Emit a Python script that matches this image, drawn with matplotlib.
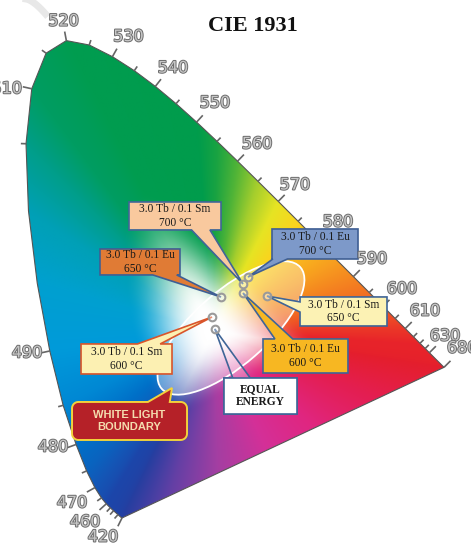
import numpy as np
import matplotlib
matplotlib.use('Agg')
import matplotlib.pyplot as plt
from matplotlib.patches import Polygon, Ellipse
import matplotlib.patheffects as pe

# CIE 1931 spectral locus, 5 nm steps
wavelengths = [420, 425, 430, 435, 440, 445, 450, 455, 460, 465, 470, 475, 480, 485, 490,
               495, 500, 505, 510, 515, 520, 525, 530, 535, 540, 545, 550, 555, 560, 565,
               570, 575, 580, 585, 590, 595, 600, 605, 610, 615, 620, 625, 630, 635, 640,
               645, 650, 655, 660, 665, 670, 675, 680]
cie_x = [0.1714, 0.1703, 0.1689, 0.1669, 0.1644, 0.1611, 0.1566, 0.1510, 0.1440, 0.1355,
         0.1241, 0.1096, 0.0913, 0.0687, 0.0454, 0.0235, 0.0082, 0.0039, 0.0139, 0.0389,
         0.0743, 0.1142, 0.1547, 0.1929, 0.2296, 0.2658, 0.3016, 0.3373, 0.3731, 0.4087,
         0.4441, 0.4788, 0.5125, 0.5448, 0.5752, 0.6029, 0.6270, 0.6482, 0.6658, 0.6801,
         0.6915, 0.7006, 0.7079, 0.7140, 0.7190, 0.7230, 0.7260, 0.7283, 0.7300, 0.7311,
         0.7320, 0.7327, 0.7334]
cie_y = [0.0051, 0.0058, 0.0069, 0.0086, 0.0109, 0.0138, 0.0177, 0.0227, 0.0297, 0.0399,
         0.0578, 0.0868, 0.1327, 0.2007, 0.2950, 0.4127, 0.5384, 0.6548, 0.7502, 0.8120,
         0.8338, 0.8262, 0.8059, 0.7816, 0.7543, 0.7243, 0.6923, 0.6589, 0.6245, 0.5896,
         0.5547, 0.5202, 0.4866, 0.4544, 0.4242, 0.3965, 0.3725, 0.3514, 0.3340, 0.3197,
         0.3083, 0.2993, 0.2920, 0.2859, 0.2809, 0.2770, 0.2740, 0.2717, 0.2700, 0.2689,
         0.2680, 0.2673, 0.2666]

label_wl = [420, 460, 470, 480, 490, 510, 520, 530, 540, 550, 560, 570, 580, 590, 600, 610, 630, 680]
minor_wl = [440, 450, 455, 465, 475, 485, 505, 515, 525, 535, 545, 555, 565, 575, 585,
            595, 605, 615, 620, 625]

# measured samples (x, y)
sample_names = ['Sm 700', 'Eu 700', 'Eu 650', 'Eu 600', 'Sm 650', 'Sm 600', 'Equal energy']
sample_x = [0.3826, 0.3913, 0.3442, 0.3826, 0.4245, 0.3285, 0.3333]
sample_y = [0.4113, 0.4234, 0.3887, 0.3956, 0.3904, 0.3540, 0.3333]

wl = np.array(wavelengths)
lx = np.array(cie_x)
ly = np.array(cie_y)

fig = plt.figure(figsize=(4.71, 5.45), dpi=100)
ax = fig.add_axes([0, 0, 1, 1])
ax.set_xlim(-0.0415, 0.7805)
ax.set_ylim(-0.0418, 0.9043)
ax.axis('off')

# --- colour fill: hue from the border, fading to white at the centre
key_wl = [420, 460, 470, 480, 485, 490, 495, 500, 505, 510, 520, 550, 555, 560, 565,
          570, 575, 580, 590, 600, 610, 620, 680]
key_rgb = np.array([
    (38, 62, 160), (28, 70, 170), (20, 86, 182), (0, 112, 200), (0, 136, 212),
    (0, 154, 218), (0, 160, 208), (0, 160, 182), (0, 158, 138), (0, 157, 98),
    (0, 156, 80), (0, 156, 76), (25, 163, 66), (80, 180, 55), (165, 206, 45),
    (230, 228, 35), (250, 212, 30), (250, 185, 30), (245, 135, 32), (240, 92, 36),
    (235, 55, 40), (232, 36, 42), (228, 30, 45)]) / 255.0
edge_rgb = np.stack([np.interp(wl, key_wl, key_rgb[:, k]) for k in range(3)], axis=1)

purple_t = [0.2, 0.4, 0.55, 0.7, 0.85]
purple_rgb = np.array([(228, 30, 80), (224, 38, 128), (212, 48, 152),
                       (165, 62, 162), (100, 64, 165)]) / 255.0
px_ = lx[-1] + np.array(purple_t) * (lx[0] - lx[-1])
py_ = ly[-1] + np.array(purple_t) * (ly[0] - ly[-1])

bx = np.concatenate([lx, px_])
by = np.concatenate([ly, py_])
bc = np.concatenate([edge_rgb, purple_rgb])

cx, cy = 0.33, 0.33
th = np.arctan2(by - cy, bx - cx)
bd = np.hypot(bx - cx, by - cy)
order = np.argsort(th)
th, bd, bc = th[order], bd[order], bc[order]

gx = np.linspace(-0.0415, 0.7805, 900)
gy = np.linspace(-0.0418, 0.9043, 1040)
X, Y = np.meshgrid(gx, gy)
T = np.arctan2(Y - cy, X - cx)
R = np.hypot(X - cx, Y - cy) / np.interp(T, th, bd, period=2 * np.pi)
s = np.clip((R - 0.06) / 0.42, 0, 1)
f = s * s * (3 - 2 * s)
img = np.empty(X.shape + (3,))
for k in range(3):
    col = np.interp(T, th, bc[:, k], period=2 * np.pi)
    img[..., k] = 1 - f * (1 - col)

locus = np.column_stack([lx, ly])
clip = Polygon(locus, closed=True, transform=ax.transData)
im = ax.imshow(img, extent=[gx[0], gx[-1], gy[0], gy[-1]], origin='lower',
               interpolation='bilinear', zorder=1, aspect='auto')
im.set_clip_path(clip)
ax.add_patch(Polygon(locus, closed=True, fill=False, ec='#555555', lw=0.8, zorder=2))

# --- wavelength ticks and labels
def normal_at(w):
    i = wavelengths.index(w)
    i0, i1 = max(i - 1, 0), min(i + 1, len(wl) - 1)
    tx, ty = lx[i1] - lx[i0], ly[i1] - ly[i0]
    n = np.array([-ty, tx])
    return n / np.hypot(*n)

for w in minor_wl + label_wl:
    i = wavelengths.index(w)
    n = normal_at(w)
    L = 0.016 if w in label_wl else 0.009
    if w == 420:
        n = np.array([-0.45, -0.9])
    ax.plot([lx[i], lx[i] + L * n[0]], [ly[i], ly[i] + L * n[1]],
            color='#666666', lw=1.2, zorder=2, solid_capstyle='butt')

label_off = {520: (-2, 14), 530: (11.5, 14.4), 540: (12.7, 13.2), 550: (13.2, 13.8),
             560: (14, 12.4), 570: (12, 11.8), 580: (14.8, 13.4), 590: (13.4, 12.7),
             600: (13.6, 12.5), 610: (14.2, 12.6), 630: (11.2, 12), 680: (13.1, 13.8),
             510: (-18, 0), 490: (-16.4, -1.4), 480: (-16.6, -1.8), 470: (-16.5, -11),
             460: (-15.3, -13.1), 420: (-13.7, -13.7)}
for w in label_wl:
    i = wavelengths.index(w)
    ax.annotate(str(w), (lx[i], ly[i]), xytext=label_off[w], textcoords='offset points',
                ha='center', va='center', fontsize=11.5, color='#c6c6c6',
                family=['Liberation Sans Narrow', 'DejaVu Sans'], zorder=6,
                path_effects=[pe.withStroke(linewidth=1.4, foreground='#6c6c6c')])

# --- white light boundary
ax.add_patch(Ellipse((0.3616, 0.335), 0.321, 0.128, angle=41,
                     fc=(1, 1, 1, 0.33), ec='white', lw=1.3, zorder=3))


def bubble(box, side, f0, f1, tip, r=0.0):
    x0, y0, x1, y1 = box
    w, h = x1 - x0, y1 - y0

    def arc(ccx, ccy, a0, a1):
        if r == 0:
            return []
        t = np.radians(np.linspace(a0, a1, 8))
        return list(zip(ccx + r * np.cos(t), ccy + r * np.sin(t)))
    pts = [(x0 + r, y0)]
    if side == 'bottom':
        pts += [(x0 + f0 * w, y0), tip, (x0 + f1 * w, y0)]
    pts += [(x1 - r, y0)] + arc(x1 - r, y0 + r, -90, 0) + [(x1, y0 + r)]
    if side == 'right':
        pts += [(x1, y0 + f0 * h), tip, (x1, y0 + f1 * h)]
    pts += [(x1, y1 - r)] + arc(x1 - r, y1 - r, 0, 90) + [(x1 - r, y1)]
    if side == 'top':
        pts += [(x0 + f1 * w, y1), tip, (x0 + f0 * w, y1)]
    pts += [(x0 + r, y1)] + arc(x0 + r, y1 - r, 90, 180) + [(x0, y1 - r)]
    if side == 'left':
        pts += [(x0, y0 + f1 * h), tip, (x0, y0 + f0 * h)]
    pts += [(x0, y0 + r)] + arc(x0 + r, y0 + r, 180, 270)
    return pts


callouts = [
    ('3.0 Tb / 0.1 Sm\n700 °C', (0.1836, 0.5051, 0.3442, 0.5537), 'bottom', 0.68, 0.88, 0, '#f9c99e', '#3f6597'),
    ('3.0 Tb / 0.1 Eu\n700 °C', (0.4332, 0.4547, 0.5833, 0.5068), 'bottom', 0.01, 0.18, 1, '#7d99c9', '#3f5f94'),
    ('3.0 Tb / 0.1 Eu\n650 °C', (0.1330, 0.4270, 0.2726, 0.4721), 'bottom', 0.66, 0.96, 2, '#e07b35', '#3f5f94'),
    ('3.0 Tb / 0.1 Eu\n600 °C', (0.4175, 0.2568, 0.5658, 0.3159), 'top', 0.14, 0.35, 3, '#f7b722', '#3f6597'),
    ('3.0 Tb / 0.1 Sm\n650 °C', (0.4821, 0.3384, 0.6339, 0.3888), 'left', 0.48, 0.83, 4, '#fcf2b4', '#3f6597'),
    ('3.0 Tb / 0.1 Sm\n600 °C', (0.0999, 0.2551, 0.2587, 0.3072), 'top', 0.62, 0.87, 5, '#fcf0b2', '#d9552b'),
]
for txt, box, side, f0, f1, k, fc, ec in callouts:
    pts = bubble(box, side, f0, f1, (sample_x[k], sample_y[k]))
    ax.add_patch(Polygon(pts, closed=True, fc=fc, ec=ec, lw=1.2, zorder=4))
    ax.text((box[0] + box[2]) / 2, (box[1] + box[3]) / 2, txt, ha='center', va='center',
            fontsize=8.3, family='Liberation Serif', color='#1a1a1a', linespacing=1.15, zorder=6)

# equal energy callout (open pointer)
ee_box = (0.3494, 0.1856, 0.4768, 0.2481)
pts = bubble(ee_box, 'top', 0.12, 0.36, (sample_x[6], sample_y[6]))
ax.add_patch(Polygon(pts, closed=True, fc=(1, 1, 1, 0.25), ec='#3f6597', lw=1.2, zorder=4))
ax.add_patch(Polygon(bubble(ee_box, None, 0, 0, None), closed=True, fc='white', ec='#3f6597',
                     lw=1.2, zorder=4))
ax.text((ee_box[0] + ee_box[2]) / 2, (ee_box[1] + ee_box[3]) / 2, 'EQUAL\nENERGY',
        ha='center', va='center', fontsize=8.3, fontweight='bold', family='Liberation Serif',
        color='#1a1a1a', linespacing=1.1, zorder=6)

# white light boundary callout
wl_box = (0.0842, 0.1405, 0.2849, 0.2065)
pts = bubble(wl_box, 'top', 0.66, 0.85, (0.2587, 0.2308), r=0.011)
ax.add_patch(Polygon(pts, closed=True, fc='#b52128', ec='#f2d23c', lw=1.4, zorder=4))
ax.text((wl_box[0] + wl_box[2]) / 2, (wl_box[1] + wl_box[3]) / 2, 'WHITE LIGHT\nBOUNDARY',
        ha='center', va='center', fontsize=8, fontweight='bold', family='Liberation Sans',
        color='#f4dcae', linespacing=1.3, zorder=6)

# sample points
ax.plot(sample_x, sample_y, 'o', ms=5.5, mfc=(1, 1, 1, 0.35), mec='#9a9a9a', mew=1.5, zorder=5)

# faint swoosh at the corner
t = np.linspace(0, 1, 20)
ax.plot(0.004 + 0.034 * t, 0.906 - 0.026 * t ** 1.5, color='#e8e8e8', lw=5, zorder=0)

fig.text(0.537, 0.953, 'CIE 1931', ha='center', va='center', fontsize=16,
         fontweight='bold', family='Liberation Serif', color='#111111')

fig.savefig('out.png', dpi=100)
